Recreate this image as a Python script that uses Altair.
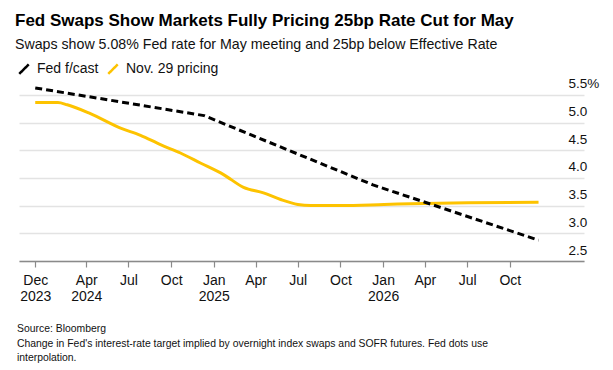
import altair as alt
import pandas as pd

# ---- data ----
fed_dates = ["2023-12-13", "2024-12-11", "2025-12-10", "2026-12-02"]
fed_values = [5.625, 5.125, 3.875, 2.875]

pricing_dates = ["2023-12-13", "2024-01-31", "2024-02-20", "2024-04-10", "2024-06-14",
                 "2024-07-27", "2024-09-08", "2024-10-21", "2024-12-03", "2025-01-22",
                 "2025-03-06", "2025-04-18", "2025-05-25", "2025-07-01", "2025-07-29",
                 "2025-10-02", "2026-01-03", "2026-03-30", "2026-07-03", "2026-12-02"]
pricing_values = [5.36, 5.36, 5.32, 5.16, 4.90,
                  4.77, 4.60, 4.45, 4.27, 4.06,
                  3.83, 3.73, 3.61, 3.52, 3.50,
                  3.50, 3.52, 3.54, 3.55, 3.56]

series_names = ["Fed f/cast", "Nov. 29 pricing"]
series_colors = ["#000000", "#FDC300"]
y_ticks = [2.5, 3.0, 3.5, 4.0, 4.5, 5.0, 5.5]

title_text = "Fed Swaps Show Markets Fully Pricing 25bp Rate Cut for May"
subtitle_text = "Swaps show 5.08% Fed rate for May meeting and 25bp below Effective Rate"
footer_lines = ["Source: Bloomberg",
                "Change in Fed's interest-rate target implied by overnight index swaps and SOFR futures. Fed dots use",
                "interpolation."]

df = pd.concat([
    pd.DataFrame({"date": fed_dates, "value": fed_values, "series": series_names[0]}),
    pd.DataFrame({"date": pricing_dates, "value": pricing_values, "series": series_names[1]}),
])

FONT = "Liberation Sans"

x_vals = [alt.DateTime(year=2023, month=12, date=13, utc=True)]
for y, m in [(2024, 4), (2024, 7), (2024, 10), (2025, 1), (2025, 4), (2025, 7), (2025, 10),
             (2026, 1), (2026, 4), (2026, 7), (2026, 10)]:
    x_vals.append(alt.DateTime(year=y, month=m, date=1, utc=True))

label_expr = ("(utcmonth(datum.value)==0 || utcyear(datum.value)==2023 || "
              "(utcyear(datum.value)==2024 && utcmonth(datum.value)==3)) ? "
              "[utcFormat(datum.value,'%b'), utcFormat(datum.value,'%Y')] : utcFormat(datum.value,'%b')")

x_enc = alt.X("date:T",
              scale=alt.Scale(type="utc",
                              domain=[alt.DateTime(year=2023, month=11, date=8, utc=True),
                                      alt.DateTime(year=2027, month=3, date=10, utc=True)]),
              axis=alt.Axis(values=x_vals, labelExpr=label_expr, title=None, grid=False,
                            domainColor="#8a8a8a", domainWidth=1.5, tickColor="#8a8a8a",
                            tickSize=6, tickWidth=1.2, labelPadding=6, labelFontSize=14,
                            labelLineHeight=16, labelColor="#111111", labelFont=FONT,
                            labelOverlap=False, labelBound=False, labelFlush=False))
y_enc = alt.Y("value:Q",
              scale=alt.Scale(domain=[2.5, 5.75], nice=False, zero=False),
              axis=alt.Axis(values=y_ticks, orient="right", title=None, domain=False, ticks=False,
                            labelAlign="left", labelPadding=-16, labelBaseline="alphabetic",
                            labelOffset=-7, labelFontSize=13.5, labelColor="#111111", labelFont=FONT,
                            gridColor="#e3e3e3", gridWidth=1.5,
                            labelExpr="datum.value==5.5 ? format(datum.value,'.1f')+'%' : format(datum.value,'.1f')"))

color = alt.Color("series:N",
                  scale=alt.Scale(domain=series_names, range=series_colors),
                  legend=alt.Legend(title=None, orient="none", legendX=-2, legendY=-19,
                                    direction="horizontal", symbolType="M-1,1L1,-1",
                                    symbolSize=90, symbolStrokeWidth=2.5, labelFontSize=14,
                                    labelFont=FONT, labelColor="#111111", columnPadding=4,
                                    labelOffset=6, symbolDash=[1, 0]))

fed_line = alt.Chart(df[df.series == series_names[0]]).mark_line(strokeWidth=3)
pricing_line = alt.Chart(df[df.series == series_names[1]]).mark_line(strokeWidth=3, interpolate="monotone")

fed_layer = fed_line.encode(x=x_enc, y=y_enc, color=color, strokeDash=alt.value([7, 4]))
pricing_layer = pricing_line.encode(x=x_enc, y=y_enc, color=color)

footer = alt.Chart(pd.DataFrame({"t": ["\n".join(footer_lines)]})).mark_text(
    align="left", baseline="top", fontSize=10.4, font=FONT, color="#111111",
    lineBreak="\n", lineHeight=14.5
).encode(x=alt.value(-2), y=alt.value(243), text="t:N")

chart = alt.layer(pricing_layer, fed_layer, footer).properties(
    width=565, height=180,
    padding={"left": 7, "top": 3, "right": 5, "bottom": 5},
    title=alt.TitleParams(text=title_text, subtitle=subtitle_text, anchor="start",
                          font=FONT, fontSize=17, fontWeight="bold", color="#000000",
                          subtitleFont=FONT, subtitleFontSize=14.2, subtitleColor="#111111",
                          subtitlePadding=8, offset=9, dx=-2)
).configure_view(stroke=None)

chart.save("out.html", embed_options={"renderer": "svg", "actions": False})
